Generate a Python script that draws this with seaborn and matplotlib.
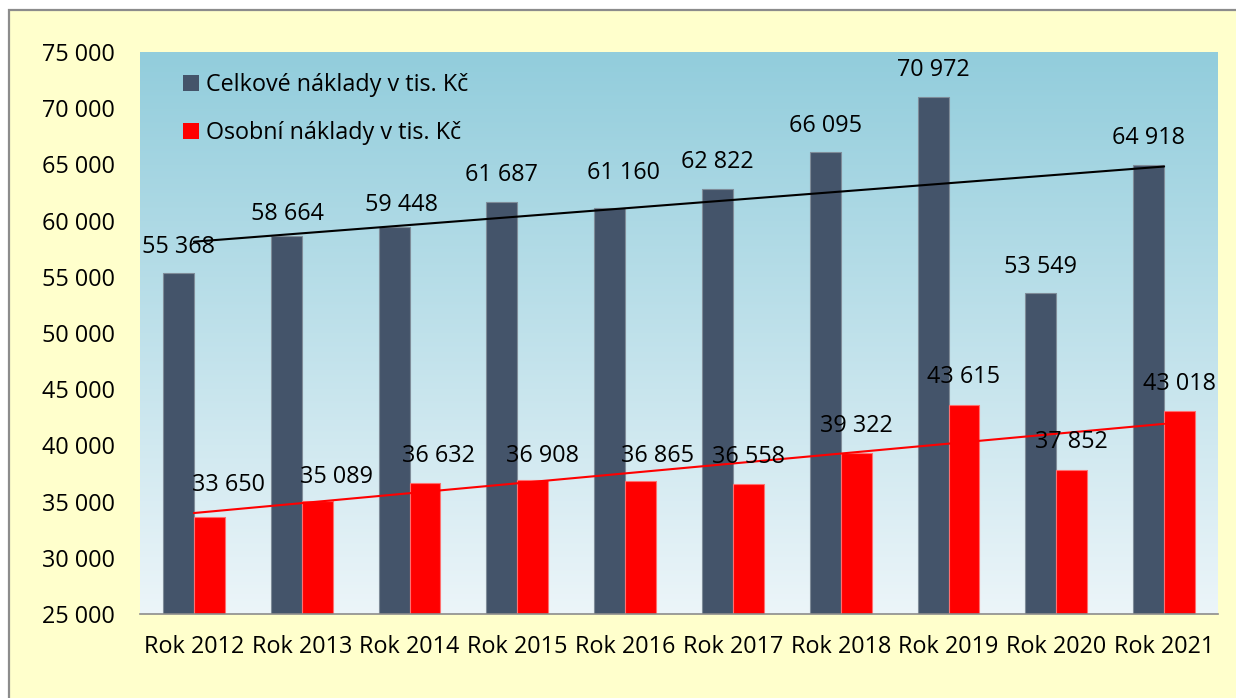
import numpy as np
import pandas as pd
import seaborn as sns
import matplotlib.pyplot as plt
from matplotlib.patches import Rectangle

years = ["Rok 2012", "Rok 2013", "Rok 2014", "Rok 2015", "Rok 2016",
         "Rok 2017", "Rok 2018", "Rok 2019", "Rok 2020", "Rok 2021"]
celkove = [55368, 58664, 59448, 61687, 61160, 62822, 66095, 70972, 53549, 64918]
osobni = [33650, 35089, 36632, 36908, 36865, 36558, 39322, 43615, 37852, 43018]
series_names = ["Celkové náklady v tis. Kč", "Osobní náklady v tis. Kč"]
y_ticks = [25000, 30000, 35000, 40000, 45000, 50000, 55000, 60000, 65000, 70000, 75000]

# label nudges in pixels (dx, height above bar top), hand placed in the original
nudge_dark = [(0.5, 26), (1, 22), (7.5, 22), (0, 27), (14, 35),
              (0, 27), (0, 26), (0, 27), (0, 26), (0, 27)]
nudge_red = [(19, 32), (19, 24), (13.5, 27), (10, 24), (16.5, 25),
             (0, 27), (0, 27), (0, 28), (0, 28), (0, 27)]

DARK = "#44546A"
RED = "#FF0000"

df = pd.DataFrame({
    "rok": years * 2,
    "hodnota": celkove + osobni,
    "serie": [series_names[0]] * len(years) + [series_names[1]] * len(years),
})

sns.set_theme(style="white")
plt.rcParams["font.family"] = ["Open Sans", "DejaVu Sans"]
plt.rcParams["text.color"] = "black"
FS = 16.8

fig = plt.figure(figsize=(12.36, 6.98), dpi=100, facecolor="white")
# yellow chart area with grey frame (cropped at right/bottom)
fig.add_artist(Rectangle((9 / 1236, -0.5), 1.5, 0.5 + 1 - 10 / 698,
                         transform=fig.transFigure, facecolor="#FFFFCC",
                         edgecolor="#8C8C8C", linewidth=1.6, zorder=-10))

ax = fig.add_axes([140 / 1236, 1 - 614 / 698, 1078 / 1236, 562 / 698])
ax.set_facecolor("none")

# vertical gradient in the plot area
top = np.array([146, 205, 220]) / 255
bottom = np.array([236, 245, 249]) / 255
t = np.linspace(0, 1, 256)[:, None]
grad = (top * (1 - t) + bottom * t)[:, None, :]
ax.imshow(grad, extent=[0, 1, 0, 1], transform=ax.transAxes, aspect="auto", zorder=0)

sns.barplot(data=df, x="rok", y="hodnota", hue="serie", palette=[DARK, RED],
            width=0.575, gap=0, saturation=1, ax=ax, zorder=2)

for cont, color in zip(ax.containers, ["#7F8C99", "#FF6F6F"]):
    for p in cont:
        p.set_edgecolor(color)
        p.set_linewidth(0.8)

# linear trend lines
xs = np.arange(len(years))
for vals, col in [(celkove, "black"), (osobni, RED)]:
    k, q = np.polyfit(xs, vals, 1)
    ax.plot([xs[0], xs[-1]], [k * xs[0] + q, k * xs[-1] + q], color=col, lw=1.5, zorder=3)

# data labels
for cont, vals, nudges in zip(ax.containers, [celkove, osobni], [nudge_dark, nudge_red]):
    for p, v, (dx, dy) in zip(cont, vals, nudges):
        cx = p.get_x() + p.get_width() / 2
        ax.annotate(f"{v:,}".replace(",", " "), (cx, v),
                    xytext=(dx * 0.72, dy * 0.72), textcoords="offset points",
                    ha="center", va="center", fontsize=FS, color="black", zorder=4)

ax.set_ylim(25000, 75000)
ax.set_xlim(-0.5, len(years) - 0.5)
ax.set_yticks(y_ticks)
ax.set_yticklabels([f"{v:,}".replace(",", " ") for v in y_ticks], fontsize=FS)
ax.set_xticks(xs)
ax.set_xticklabels(years, fontsize=FS)
ax.set_xticks(np.arange(-0.5, len(years)), minor=True)
ax.tick_params(axis="y", length=0, pad=18, labelcolor="black")
ax.tick_params(axis="x", which="major", length=0, pad=15, labelcolor="black")
ax.tick_params(axis="x", which="minor", length=6, width=1.2, color="#8C8C8C", direction="out")
ax.set_xlabel("")
ax.set_ylabel("")
ax.grid(False)

for s in ["left", "top", "right"]:
    ax.spines[s].set_visible(False)
ax.spines["bottom"].set_color("#8C8C8C")
ax.spines["bottom"].set_linewidth(1.2)
ax.spines["bottom"].set_zorder(5)

handles, labels = ax.get_legend_handles_labels()
for h in handles:
    h.set_edgecolor("none")
leg = ax.legend(handles, labels, loc="upper left", bbox_to_anchor=(0.04, 0.962),
                frameon=False, fontsize=FS, handlelength=0.7, handleheight=0.7,
                handletextpad=0.3, labelspacing=1.02, borderpad=0, borderaxespad=0)
for txt in leg.get_texts():
    txt.set_color("black")

plt.savefig("out.png", dpi=100, facecolor=fig.get_facecolor())
